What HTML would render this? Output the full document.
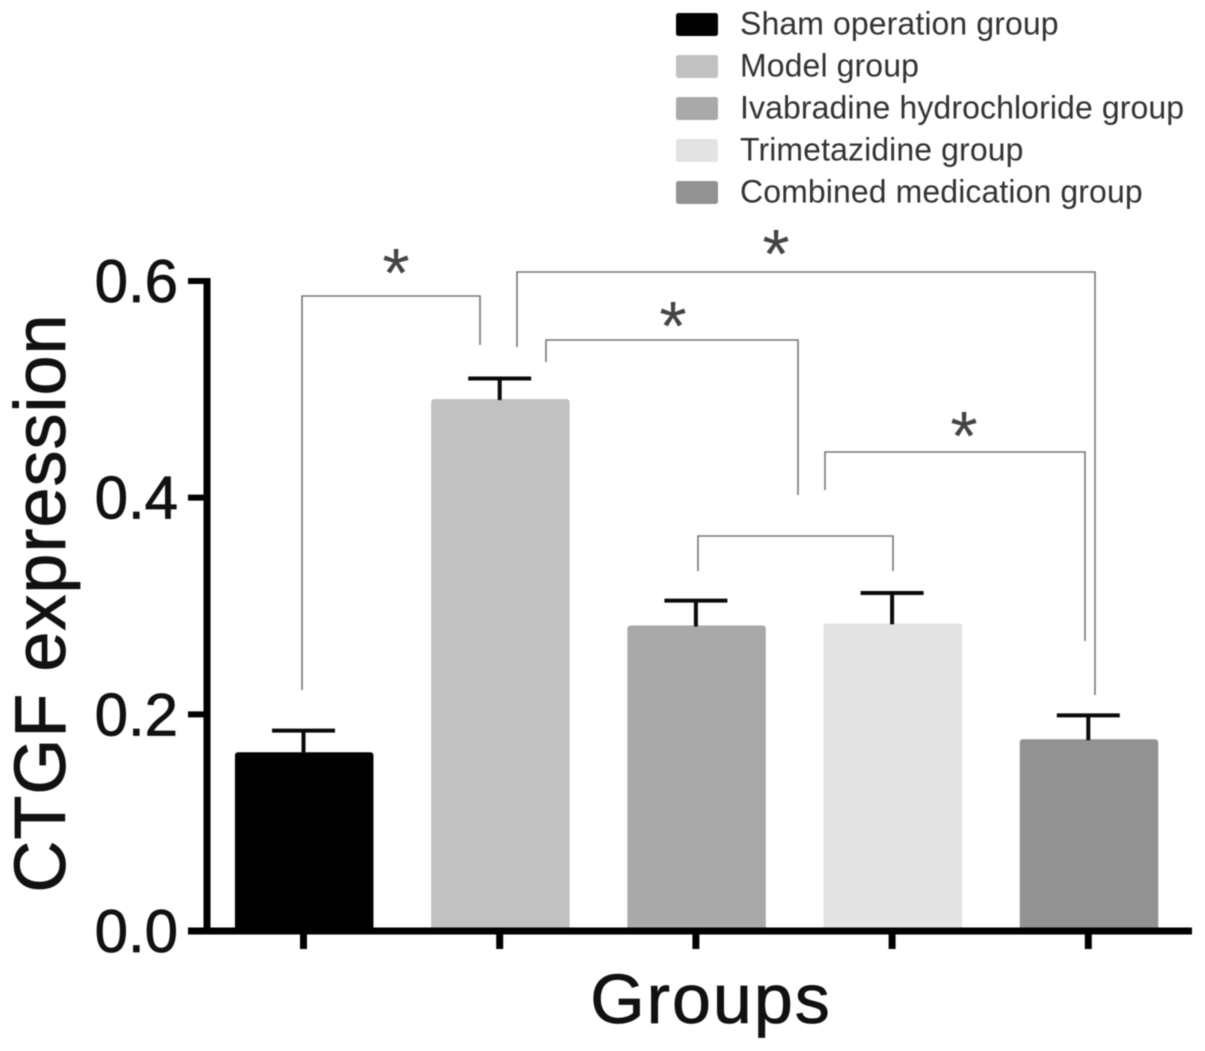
<!DOCTYPE html>
<html lang="en">
<head>
<meta charset="utf-8">
<title>CTGF expression by group</title>
<style>
html,body{margin:0;padding:0;background:#fff;width:1205px;height:1051px;overflow:hidden}
svg{display:block;font-family:"Liberation Sans",sans-serif;filter:blur(0.5px)}
</style>
</head>
<body>
<svg id="chart" xmlns="http://www.w3.org/2000/svg" width="1205" height="1051" viewBox="0 0 1205 1051">
  <g id="bars"></g>
  <g id="errors"></g>
  <g id="axes"></g>
  <g fill="none" stroke="#777" stroke-width="1.6">
    <path d="M302 690V296H480V345"/>
    <path d="M517 347V272H1095V695"/>
    <path d="M546 362V340H798V495"/>
    <path d="M825 490V452H1085V641"/>
    <path d="M698 571V536H893V571"/>
  </g>
  <g font-size="70" fill="#444" text-anchor="middle">
    <text x="396" y="297">*</text>
    <text x="776" y="278">*</text>
    <text x="673" y="350">*</text>
    <text x="964" y="460">*</text>
  </g>
  <text transform="translate(65 603) rotate(-90)" text-anchor="middle" font-size="72" letter-spacing="1" fill="#111" stroke="#111" stroke-width="0.8">CTGF expression</text>
  <text x="711" y="1023" text-anchor="middle" font-size="70" letter-spacing="2" fill="#111" stroke="#111" stroke-width="0.8">Groups</text>
  <g id="legend"></g>
</svg>
<script>
const categories = ["Sham operation group", "Model group", "Ivabradine hydrochloride group", "Trimetazidine group", "Combined medication group"];
const means = [0.165, 0.491, 0.282, 0.284, 0.177];
const upperErrors = [0.185, 0.510, 0.305, 0.312, 0.199];
const colors = ["#000000", "#c1c1c1", "#a9a9a9", "#e3e3e3", "#929292"];
const yTicks = ["0.0", "0.2", "0.4", "0.6"];

const NS = "http://www.w3.org/2000/svg";
const yZero = 931, yTop = 281, yMax = 0.6;
const xFirst = 303.5, xStep = 196.2;
const barWidth = 138.5, capWidth = 63;
const yScale = v => yZero - (v / yMax) * (yZero - yTop);
const xScale = i => xFirst + i * xStep;

function make(parent, tag, attrs) {
  const el = document.createElementNS(NS, tag);
  for (const k in attrs) el.setAttribute(k, attrs[k]);
  parent.appendChild(el);
  return el;
}

const barsG = document.getElementById("bars");
const errG = document.getElementById("errors");
const axesG = document.getElementById("axes");
const legendG = document.getElementById("legend");

categories.forEach((name, i) => {
  const key = name.toLowerCase().replace(/\s+/g, "-");
  const cx = xScale(i);
  const top = yScale(means[i]);
  const capY = yScale(upperErrors[i]);

  const stem = make(errG, "line", {x1: cx, x2: cx, y1: top + 1, y2: capY, stroke: "#0a0a0a", "stroke-width": 4});
  
  
  const cap = make(errG, "line", {x1: cx - capWidth / 2, x2: cx + capWidth / 2, y1: capY, y2: capY, stroke: "#0a0a0a", "stroke-width": 4});
  
  

  const bar = make(barsG, "rect", {x: cx - barWidth / 2 + 0.7, y: top, width: barWidth, height: yScale(0) - top, rx: 3, fill: colors[i]});
  
  

  const tick = make(axesG, "line", {x1: cx, x2: cx, y1: yZero, y2: 949, stroke: "#000", "stroke-width": 7});
  
  

  const ly = 13 + i * 42;
  const swatch = make(legendG, "rect", {x: 676, y: ly, width: 42, height: 23, rx: 2.5, fill: colors[i]});
  
  
  const label = make(legendG, "text", {x: 740, y: ly + 21.5, "font-size": 32, "letter-spacing": 0.1, fill: "#333"});
  
  
  label.textContent = name;
});

const yAxis = make(axesG, "line", {x1: 207, x2: 207, y1: yTop - 3, y2: yZero + 3, stroke: "#000", "stroke-width": 7});


const xAxis = make(axesG, "line", {x1: 188, x2: 1192, y1: yZero, y2: yZero, stroke: "#000", "stroke-width": 7});



yTicks.forEach(t => {
  const y = yScale(parseFloat(t));
  const tick = make(axesG, "line", {x1: 188, x2: 207, y1: y, y2: y, stroke: "#000", "stroke-width": 6});
  
  
  const label = make(axesG, "text", {x: 178, y: y + 21, "text-anchor": "end", "font-size": 60, fill: "#111", stroke: "#111", "stroke-width": 0.8});
  
  
  label.textContent = t;
});
</script>
</body>
</html>
